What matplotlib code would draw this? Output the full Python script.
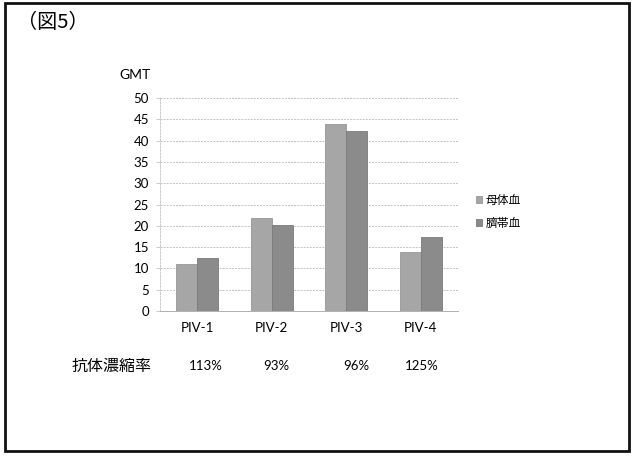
import matplotlib
matplotlib.use("Agg")
import matplotlib.pyplot as plt
import numpy as np
from matplotlib.patches import Rectangle

categories = ["PIV-1", "PIV-2", "PIV-3", "PIV-4"]
maternal = [11.0, 21.8, 44.0, 13.9]
cord = [12.5, 20.2, 42.3, 17.4]
series_names = ["母体血", "臍帯血"]
ratio_labels = ["113%", "93%", "96%", "125%"]
yticks = [0, 5, 10, 15, 20, 25, 30, 35, 40, 45, 50]

W, H = 632, 457
JP = ["Noto Sans CJK JP", "DejaVu Sans"]
LAT = ["Lato", "Noto Sans CJK JP", "DejaVu Sans"]

fig = plt.figure(figsize=(W / 100, H / 100), dpi=100)
fig.patch.set_facecolor("white")

def fx(px):
    return px / W

def fy(py):
    return 1 - py / H

# outer frame
fig.patches.append(Rectangle((fx(5), fy(451)), fx(629) - fx(5), fy(3) - fy(451),
                             transform=fig.transFigure, fill=False,
                             edgecolor="#111111", linewidth=2.0))

ax = fig.add_axes([fx(160), fy(311), fx(458) - fx(160), fy(98) - fy(311)])
x = np.arange(len(categories))
bw = 0.28
ax.bar(x - bw / 2, maternal, bw, color="#a6a6a6", edgecolor="#979797",
       linewidth=0.6, label=series_names[0], zorder=3)
ax.bar(x + bw / 2, cord, bw, color="#8b8b8b", edgecolor="#7a7a7a",
       linewidth=0.6, label=series_names[1], zorder=3)

ax.set_xlim(-0.5, len(categories) - 0.5)
ax.set_ylim(0, 50)
ax.set_yticks(yticks)
ax.set_yticklabels([str(v) for v in yticks], fontsize=9.5, family=LAT)
ax.set_xticks(x)
ax.set_xticklabels(categories, fontsize=9.5, family=LAT)
ax.tick_params(axis="y", length=3, color="#cccccc", pad=5)
ax.tick_params(axis="x", length=0, pad=8)
ax.yaxis.grid(True, color="#c2c2c2", linestyle=(0, (2, 1.2)), linewidth=0.7, zorder=0)
for s in ["top", "right"]:
    ax.spines[s].set_visible(False)
ax.spines["left"].set_color("#cccccc")
ax.spines["left"].set_linestyle((0, (2, 1.5)))
ax.spines["left"].set_linewidth(0.7)
ax.spines["bottom"].set_color("#b0b0b0")
ax.spines["bottom"].set_linewidth(0.7)

leg = ax.legend(loc="upper left", bbox_to_anchor=(fx(471), fy(189)),
                bbox_transform=fig.transFigure, frameon=False,
                prop={"family": JP, "size": 8.5}, handlelength=0.55,
                handleheight=0.55, handletextpad=0.3, labelspacing=0.85,
                borderaxespad=0)

fig.text(fx(17), fy(22), "（図5）", family=JP, fontsize=14.5, ha="left", va="center")
fig.text(fx(119), fy(75), "GMT", family=LAT, fontsize=10, ha="left", va="center")
fig.text(fx(72), fy(366), "抗体濃縮率", family=JP, fontsize=11.5, ha="left", va="center")
for px, lab in zip([206, 276, 356, 422], ratio_labels):
    fig.text(fx(px), fy(366), lab, family=LAT, fontsize=9.5, ha="center", va="center")

fig.savefig("out.png", dpi=100)
